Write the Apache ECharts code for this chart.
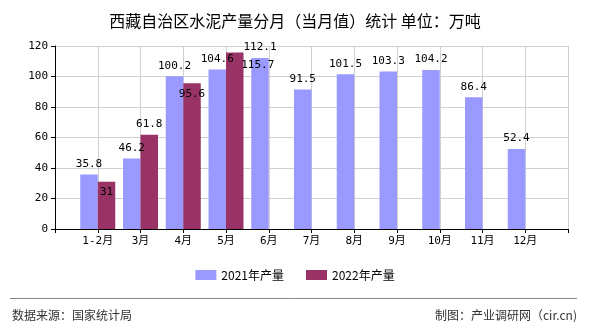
<!DOCTYPE html>
<html><head><meta charset="utf-8">
<script src="https://cdn.jsdelivr.net/npm/echarts@6/dist/echarts.min.js"></script>
<style>html,body{margin:0;padding:0;background:#fff}#c{width:590px;height:330px}</style>
</head><body><div id="c"></div>
<script>
const categories = ['', '1-2月', '3月', '4月', '5月', '6月', '7月', '8月', '9月', '10月', '11月', '12月', ''];
const values2021 = ['-', 35.8, 46.2, 100.2, 104.6, 112.1, 91.5, 101.5, 103.3, 104.2, 86.4, 52.4, '-'];
const values2022 = ['-', 31, 61.8, 95.6, 115.7, '-', '-', '-', '-', '-', '-', '-', '-'];
const yTicks = {min: 0, max: 120, interval: 20};
const seriesNames = ['2021年产量', '2022年产量'];
const titleText = '西藏自治区水泥产量分月（当月值）统计 单位：万吨';

const numFont = "'DejaVu Sans Mono', 'Noto Sans CJK SC', monospace";
const cjk = "'Noto Sans CJK SC', sans-serif";

const label2022Pos = ['insideTop', 'top', 'insideTop', 'insideTop'];
const data2022 = values2022.map((v, i) => {
  if (v === '-') return v;
  const idx = i - 1;
  const item = {value: v, label: {position: label2022Pos[idx]}};
  if (idx === 3) item.label.offset = [23, 2];
  return item;
});

const chart = echarts.init(document.getElementById('c'), null, {renderer: 'canvas'});
chart.setOption({
  animation: false,
  title: {text: titleText, left: 'center', top: 8,
    textStyle: {fontFamily: cjk, fontSize: 16, fontWeight: 'normal', color: '#000'}},
  legend: {bottom: 44, left: 'center', itemWidth: 21, itemHeight: 10, itemGap: 22, icon: 'rect',
    textStyle: {fontFamily: cjk, fontSize: 12, color: '#000'},
    data: seriesNames},
  grid: {left: 55, right: 22, top: 46, bottom: 101},
  xAxis: {type: 'category', data: categories, boundaryGap: false,
    axisLine: {lineStyle: {color: '#000', width: 1}},
    axisTick: {show: true, length: 4, lineStyle: {color: '#000'}},
    axisLabel: {fontFamily: numFont, fontSize: 11, color: '#000', margin: 7, interval: 0},
    splitLine: {show: true, lineStyle: {color: '#d0d0d0'}}},
  yAxis: {type: 'value', min: yTicks.min, max: yTicks.max, interval: yTicks.interval,
    axisLine: {show: true, lineStyle: {color: '#000'}},
    axisTick: {show: true, length: 4, lineStyle: {color: '#000'}},
    axisLabel: {fontFamily: numFont, fontSize: 11, color: '#000', margin: 7},
    splitLine: {show: true, lineStyle: {color: '#d0d0d0'}}},
  series: [
    {name: seriesNames[0], type: 'bar', data: values2021, barWidth: 17.5, barGap: '0%',
      itemStyle: {color: '#9999ff'},
      label: {show: true, position: 'top', distance: 5, fontFamily: numFont, fontSize: 11, color: '#000'}},
    {name: seriesNames[1], type: 'bar', data: data2022, barWidth: 17.5, barGap: '0%',
      itemStyle: {color: '#993366'},
      label: {show: true, position: 'top', distance: 5, fontFamily: numFont, fontSize: 11, color: '#000'}}
  ],
  graphic: [
    {type: 'line', shape: {x1: 10, y1: 298.5, x2: 577, y2: 298.5}, style: {stroke: '#888', lineWidth: 1}},
    {type: 'text', left: 12, top: 309, style: {text: '数据来源：国家统计局', font: "12px 'Noto Sans CJK SC'", fill: '#333'}},
    {type: 'text', right: 13, top: 309, style: {text: '制图：产业调研网（cir.cn)', font: "12px 'Noto Sans CJK SC'", fill: '#333'}}
  ]
});
</script></body></html>
